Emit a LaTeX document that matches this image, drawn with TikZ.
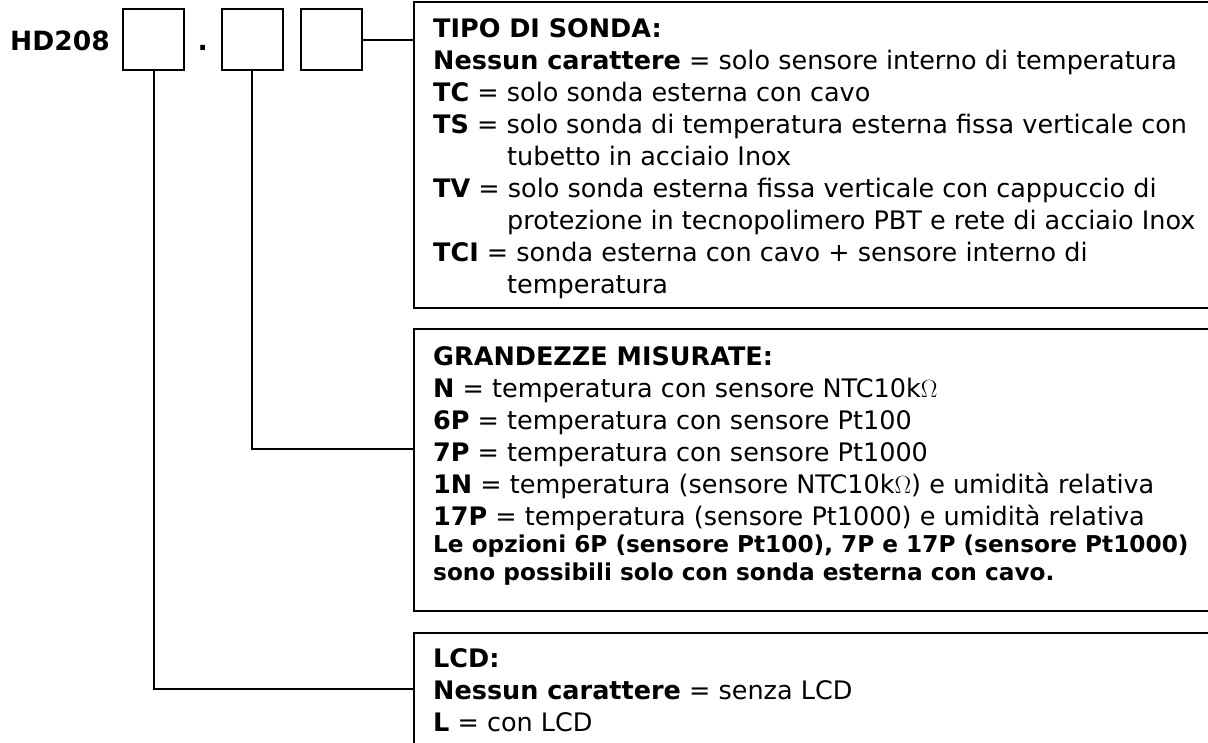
\documentclass[tikz,border=0pt]{standalone}
\usepackage{fontspec}
\setmainfont{DejaVu Sans}
\begin{document}
\begin{tikzpicture}[x=1pt,y=-1pt,
  sq/.style={draw, line width=2pt, minimum width=61pt, minimum height=61pt, inner sep=0pt},
  frame/.style={draw, line width=2pt, inner sep=0pt, anchor=north west},
  conn/.style={line width=2pt},
  txt/.style={anchor=base west, inner sep=0pt, font=\fontsize{25.5}{32}\selectfont},
  note/.style={anchor=base west, inner sep=0pt, font=\fontsize{23.2}{28}\selectfont\bfseries}]
\useasboundingbox (0,0) rectangle (1208,742);
% code row
\node[txt, font=\fontsize{26.5}{32}\selectfont\bfseries] (hd) at (10,50) {HD208};
\node[sq] (b1) at (153.5,39.5) {};
\node[txt, font=\fontsize{27}{32}\selectfont\bfseries] (dot) at (197.5,50) {.};
\node[sq] (b2) at (252,39.5) {};
\node[sq] (b3) at (331,39.5) {};
% frames
\node[frame, minimum width=794.5pt, minimum height=306pt] (tipo) at (413,1) {};
\node[frame, minimum width=794.5pt, minimum height=282pt] (grand) at (413,328) {};
\node[frame, minimum width=794.5pt, minimum height=140pt] (lcd) at (413,632) {};
% TIPO text
\node[txt] (t1) at (433,37) {\textbf{TIPO DI SONDA:}};
\node[txt] (t2) at (433,69) {\textbf{Nessun carattere} = solo sensore interno di temperatura};
\node[txt] (t3) at (433,101) {\textbf{TC} = solo sonda esterna con cavo};
\node[txt] (t4) at (433,133) {\textbf{TS} = solo sonda di temperatura esterna fissa verticale con};
\node[txt] (t5) at (507,165) {tubetto in acciaio Inox};
\node[txt] (t6) at (433,197) {\textbf{TV} = solo sonda esterna fissa verticale con cappuccio di};
\node[txt] (t7) at (507,229) {protezione in tecnopolimero PBT e rete di acciaio Inox};
\node[txt] (t8) at (433,261) {\textbf{TCI} = sonda esterna con cavo + sensore interno di};
\node[txt] (t9) at (507,293) {temperatura};
% GRANDEZZE text
\node[txt] (g1) at (433,365) {\textbf{GRANDEZZE MISURATE:}};
\node[txt] (g2) at (433,397) {\textbf{N} = temperatura con sensore NTC10k$\Omega$};
\node[txt] (g3) at (433,429) {\textbf{6P} = temperatura con sensore Pt100};
\node[txt] (g4) at (433,461) {\textbf{7P} = temperatura con sensore Pt1000};
\node[txt] (g5) at (433,493) {\textbf{1N} = temperatura (sensore NTC10k$\Omega$) e umidità relativa};
\node[txt] (g6) at (433,525) {\textbf{17P} = temperatura (sensore Pt1000) e umidità relativa};
\node[note] (g7) at (433,552) {Le opzioni 6P (sensore Pt100), 7P e 17P (sensore Pt1000)};
\node[note] (g8) at (433,580) {sono possibili solo con sonda esterna con cavo.};
% LCD text
\node[txt] (c1) at (433,667) {\textbf{LCD:}};
\node[txt] (c2) at (433,699) {\textbf{Nessun carattere} = senza LCD};
\node[txt] (c3) at (433,731) {\textbf{L} = con LCD};
% connectors
\coordinate (k2) at (0,449);
\coordinate (k1) at (0,689);
\draw[conn] (b3.east) -- (b3.east -| tipo.west);
\draw[conn] (b2.south) |- (k2 -| grand.west);
\draw[conn] (b1.south) |- (k1 -| lcd.west);
\end{tikzpicture}
\end{document}
